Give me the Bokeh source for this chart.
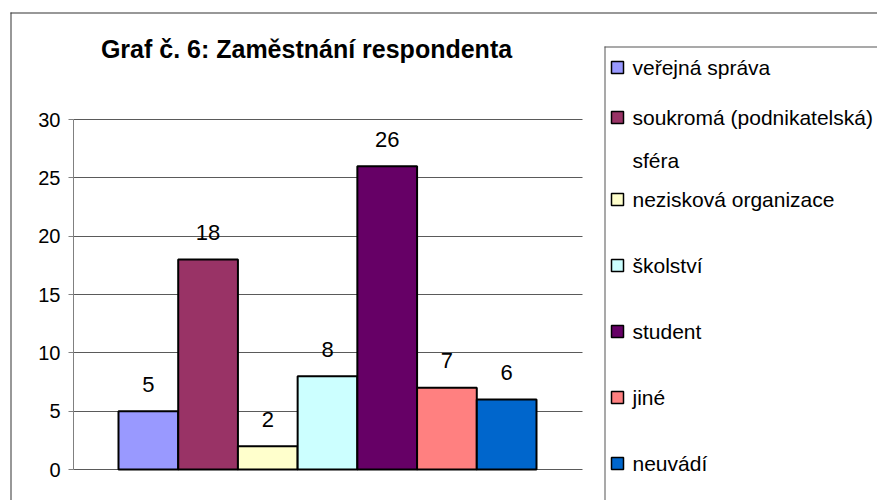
from bokeh.plotting import figure
from bokeh.models import ColumnDataSource, Range1d, LabelSet, Label, BoxAnnotation, FixedTicker
from bokeh.core.properties import value
from bokeh.embed import file_html
from bokeh.resources import INLINE

title_text = "Graf č. 6: Zaměstnání respondenta"
categories = ["veřejná správa", "soukromá (podnikatelská) sféra", "nezisková organizace",
              "školství", "student", "jiné", "neuvádí"]
values = [5, 18, 2, 8, 26, 7, 6]
colors = ["#9999FF", "#993366", "#FFFFCC", "#CCFFFF", "#660066", "#FF8080", "#0066CC"]
y_ticks = [0, 5, 10, 15, 20, 25, 30]

FONT = "Liberation Sans"
W, H = 877, 500
# page coordinates of the plot area
FL, FR, FT, FB = 73, 582, 119, 469
BAR_L, BAR_R = 118, 536
Y_MAX = 30

idx = list(range(len(values)))
src = ColumnDataSource(dict(x=idx, top=values, color=colors, cat=categories,
                            lab=[str(v) for v in values]))

bar_px = (BAR_R - BAR_L) / len(values)
x0 = -0.5 - BAR_L / bar_px               # data x at page x = 0
x_lo = x0 + FL / bar_px                  # plot-area left in data units
x_hi = x0 + FR / bar_px                  # plot-area right in data units
y_px = (FB - FT) / Y_MAX
y_start = -(H - FB) / y_px
y_end = Y_MAX + FT / y_px

p = figure(width=W, height=H, output_backend="svg", toolbar_location=None,
           x_range=Range1d(x0, x0 + W / bar_px), y_range=Range1d(y_start, y_end),
           x_axis_location=None,
           min_border_left=0, min_border_right=0, min_border_top=0, min_border_bottom=0)
p.outline_line_color = None
p.background_fill_color = "white"
p.border_fill_color = "white"
p.xgrid.visible = False

p.yaxis.fixed_location = x_lo
p.yaxis.bounds = (0, Y_MAX)
p.yaxis.ticker = FixedTicker(ticks=y_ticks)
p.yaxis.axis_line_color = "#808080"
p.yaxis.major_tick_line_color = "#808080"
p.yaxis.major_tick_out = 5
p.yaxis.major_tick_in = 0
p.yaxis.minor_tick_line_color = None
p.yaxis.major_label_standoff = 8
p.yaxis.major_label_text_font = FONT
p.yaxis.major_label_text_font_size = "20px"
p.yaxis.major_label_text_color = "black"

grid_done = False
try:
    p.ygrid.ticker = FixedTicker(ticks=y_ticks)
    p.ygrid.cross_bounds = (x_lo, x_hi)
    p.ygrid.grid_line_color = "#5a5a5a"
    p.ygrid.grid_line_width = 1
    grid_done = True
except Exception:
    grid_done = False
if not grid_done:
    p.ygrid.visible = False
    p.segment(x0=[x_lo] * len(y_ticks), x1=[x_hi] * len(y_ticks), y0=y_ticks, y1=y_ticks,
              line_color="#5a5a5a", line_width=1)

p.vbar(x="x", top="top", width=1, fill_color="color", line_color="black", line_width=2, source=src)

p.add_layout(LabelSet(x="x", y="top", text="lab", source=src, y_offset=27,
                      text_align="center", text_baseline="middle",
                      text_font=value(FONT), text_font_size="22px", text_color="black"))

def sx(px):
    return px

def sy(py):
    return H - py

# title
p.add_layout(Label(x=sx(306), y=sy(48), x_units="screen", y_units="screen", text=title_text,
                   text_align="center", text_baseline="alphabetic", text_font=FONT,
                   text_font_size="25px", text_font_style="bold", text_color="black"))

def box(l, r, t, b, **kw):
    return BoxAnnotation(left=sx(l), right=sx(r), top=sy(t), bottom=sy(b),
                         left_units="screen", right_units="screen", top_units="screen",
                         bottom_units="screen", **kw)

def edge(l, r, t, b, color):
    p.add_layout(box(l, r, t, b, fill_color=color, fill_alpha=1, line_color=None, line_alpha=0))

# outer border (continues beyond the picture on the right and bottom)
edge(10, 11, 12, H + 50, "#333333")
edge(10, W + 50, 12, 13, "#333333")
# legend box
edge(604, 605, 46, H + 50, "#555555")
edge(604, W + 50, 46, 47, "#555555")

leg_y = [67, 117, 199, 265, 331, 397, 463]
leg_lines = [["veřejná správa"], ["soukromá (podnikatelská)", "sféra"], ["nezisková organizace"],
             ["školství"], ["student"], ["jiné"], ["neuvádí"]]
for yc, lines, col in zip(leg_y, leg_lines, colors):
    p.add_layout(box(611, 623, yc - 6, yc + 6, fill_color=col, fill_alpha=1,
                     line_color="black", line_width=1.5, line_alpha=1))
    for k, t in enumerate(lines):
        p.add_layout(Label(x=sx(632), y=sy(yc + 43 * k), x_units="screen", y_units="screen",
                           text=t, text_align="left", text_baseline="middle", text_font=FONT,
                           text_font_size="21px", text_color="black"))

open("out.html", "w").write(file_html(p, INLINE))
